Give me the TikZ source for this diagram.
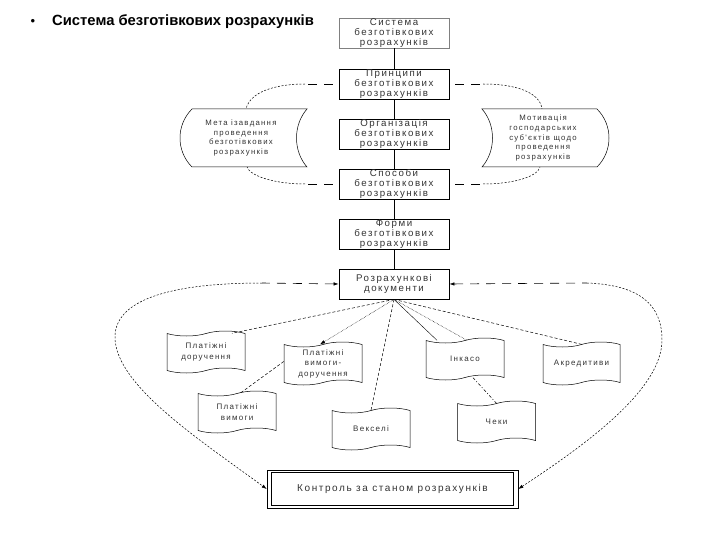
\documentclass[tikz,border=0pt]{standalone}
\usepackage{fontspec}
\setmainfont{Liberation Sans}
\newfontfamily\spaced[LetterSpace=16]{Liberation Sans}
\usetikzlibrary{shapes.symbols,arrows.meta}
\definecolor{txt}{HTML}{333333}
\tikzset{
  box/.style={draw=black, line width=0.8pt, minimum width=110pt, minimum height=30pt, inner sep=0pt,
    align=center, font=\spaced\fontsize{9.7}{10.3}\selectfont, text=txt},
  doc/.style={tape, draw=black, line width=0.5pt, tape bend height=5pt, minimum width=78pt, minimum height=42pt,
    inner sep=0pt, align=center, font=\spaced\fontsize{8}{10.5}\selectfont, text=txt},
  side/.style={inner sep=0pt, align=center, font=\spaced\fontsize{7.8}{9.6}\selectfont, text=txt},
  outline/.style={line width=0.5pt},
  solidlink/.style={draw=black, line width=0.8pt},
  longdash/.style={line width=0.6pt, dash pattern=on 9pt off 7pt},
  finedash/.style={line width=0.5pt, dash pattern=on 2pt off 1.6pt},
  linkdash/.style={line width=0.5pt, dash pattern=on 3pt off 2pt},
  tip/.style={-{Latex[length=5pt,width=3.5pt]}},
}
\begin{document}
\begin{tikzpicture}[x=1pt,y=-1pt]
\useasboundingbox (0,0) rectangle (720,540);
% title
\node[font=\fontsize{13}{15}\selectfont, inner sep=0pt] (bul) at (33,22) {•};
\node[font=\bfseries\fontsize{14.8}{16}\selectfont, anchor=west, inner sep=0pt] (title) at (52,22) {Система безготівкових розрахунків};
% main column
\node[box, draw=gray, line width=0.5pt] (sys) at (394,33) {Система\\безготівкових\\розрахунків};
\node[box] (pr) at (394,84) {Принципи\\безготівкових\\розрахунків};
\node[box] (org) at (394,134) {Організація\\безготівкових\\розрахунків};
\node[box] (sp) at (394,184) {Способи\\безготівкових\\розрахунків};
\node[box] (fo) at (394,234) {Форми\\безготівкових\\розрахунків};
\node[box] (rd) at (394,284) {Розрахункові\\документи};
\foreach \a/\b in {sys/pr, pr/org, org/sp, sp/fo, fo/rd}
  \draw[solidlink] (\a.south) -- (\b.north);
% side shapes
\node[side] (meta) at (241,138) {Мета ізавдання\\проведення\\безготівкових\\розрахунків};
\coordinate (mNW) at (192,109); \coordinate (mSW) at (192,167);
\coordinate (mNE) at (307,109); \coordinate (mSE) at (307,167);
\draw[outline] (mNW) .. controls +(-16,16) and +(-16,-16) .. (mSW) -- (mSE)
  .. controls +(-14,-16) and +(-14,16) .. (mNE) -- cycle;
\node[side] (mot) at (543,138) {Мотивація\\господарських\\суб'єктів щодо\\проведення\\розрахунків};
\coordinate (oNW) at (482,109); \coordinate (oSW) at (482,167);
\coordinate (oNE) at (597,109); \coordinate (oSE) at (597,167);
\draw[outline] (oNW) .. controls +(14,16) and +(14,-16) .. (oSW) -- (oSE)
  .. controls +(16,-16) and +(16,16) .. (oNE) -- cycle;
\coordinate (mT) at (246,109); \coordinate (mB) at (247,167);
\coordinate (oT) at (542,109); \coordinate (oB) at (540,167);
% dashed loops upper
\coordinate (ltA) at (305,84);
\coordinate (lbA) at (305,184);
\coordinate (rtA) at (483,84);
\coordinate (rbA) at (483,184);
\draw[longdash] ([xshift=-6pt]pr.west) -- (ltA);
\draw[finedash] (ltA) .. controls (275,84) and (250,92) .. (mT);
\draw[longdash] ([xshift=-6pt]sp.west) -- (lbA);
\draw[finedash] (lbA) .. controls (275,184) and (250,176) .. (mB);
\draw[longdash] ([xshift=6pt]pr.east) -- (rtA);
\draw[finedash] (rtA) .. controls (515,84) and (540,92) .. (oT);
\draw[longdash] ([xshift=6pt]sp.east) -- (rbA);
\draw[finedash] (rbA) .. controls (515,184) and (538,176) .. (oB);
% documents
\node[doc] (pd) at (206,352) {Платіжні\\доручення};
\node[doc, minimum height=43pt] (pvd) at (323,363.5) {Платіжні\\вимоги-\\доручення};
\node[doc] (ink) at (465,359) {Інкасо};
\node[doc, minimum height=43pt, minimum width=77pt] (akr) at (581.5,363.5) {Акредитиви};
\node[doc] (pv) at (237,412) {Платіжні\\вимоги};
\node[doc] (vek) at (371,429) {Векселі};
\node[doc] (chk) at (496.5,422) {Чеки};
% links from documents box
\draw[linkdash] (rd.south) -- ([xshift=26pt]pd.north);
\draw[line width=0.5pt, densely dotted, tip] (rd.south) -- ([xshift=-3pt]pvd.north);
\draw[linkdash] (rd.south) -- (vek.north);
\draw[line width=0.4pt] (rd.south) -- ([xshift=-28pt]ink.north);
\draw[line width=0.5pt, densely dotted] (rd.south) -- ([xshift=2pt]ink.north);
\draw[linkdash] (rd.south) -- (akr.north);
\draw[linkdash] ([yshift=2pt]pvd.west) -- ([xshift=3pt]pv.north);
\draw[line width=0.5pt, dash pattern=on 3pt off 2pt on 1pt off 2pt] ([xshift=8pt]ink.south) -- (chk.north);
% control box
\node[draw=black, line width=0.6pt, minimum width=251pt, minimum height=38pt, inner sep=0pt,
  font=\spaced\fontsize{10}{12}\selectfont, text=txt] (kon) at (392.5,489) {Контроль за станом розрахунків};
\draw[line width=0.6pt] ([shift={(5pt,-3pt)}]kon.north west) rectangle ([shift={(-5pt,3pt)}]kon.south east);
% big loops
\coordinate (lA) at (262,283);
\coordinate (rA) at (587,283);
\draw[longdash, {Latex[length=5pt,width=3.5pt]}-] (rd.west) -- (lA);
\draw[finedash, tip] (lA) .. controls (170,283) and (115,300) .. (115,337) .. controls (115,385) and (200,440) .. (kon.west);
\draw[longdash, {Latex[length=5pt,width=3.5pt]}-] (rd.east) -- (rA);
\draw[finedash, tip] (rA) .. controls (640,285) and (662,305) .. (662,340) .. controls (662,390) and (585,445) .. (kon.east);
\end{tikzpicture}
\end{document}
